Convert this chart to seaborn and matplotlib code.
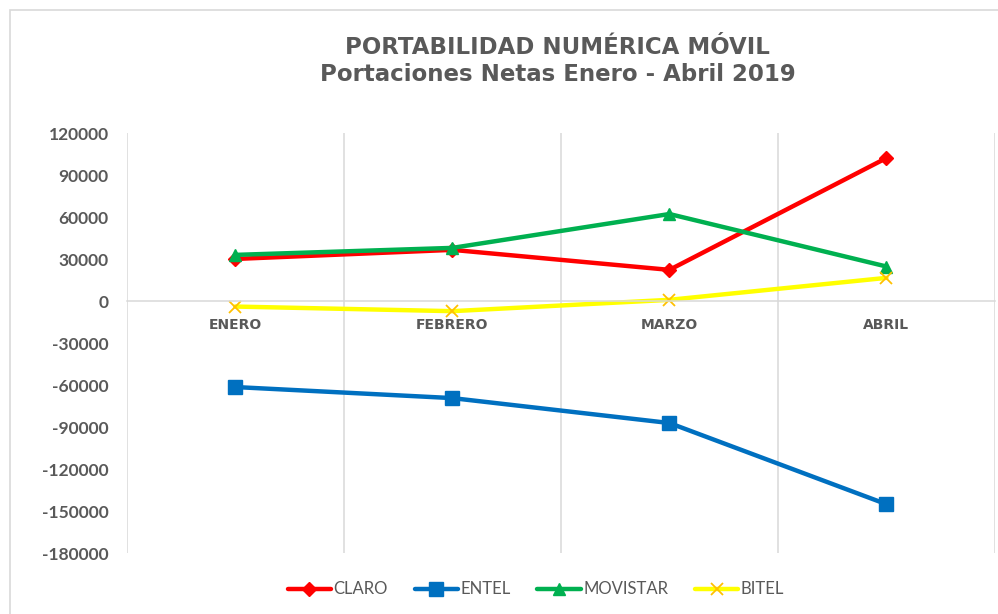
import pandas as pd
import matplotlib.pyplot as plt
import matplotlib.patches as mpatches
import seaborn as sns

#months on the x-axis
meses = ['ENERO', 'FEBRERO', 'MARZO', 'ABRIL']

#net portings per operator
claro = [30200, 36700, 22400, 102300]
entel = [-61300, -69200, -87000, -145000]
movistar = [33100, 38100, 62300, 24800]
bitel = [-3800, -7100, 1000, 16700]

operadores = ['CLARO', 'ENTEL', 'MOVISTAR', 'BITEL']
valores = [claro, entel, movistar, bitel]

#build a long dataframe for seaborn
data = pd.DataFrame()
for n in range(len(operadores)):
    df = pd.DataFrame({'Mes': meses, 'Portaciones': valores[n]})
    df['Operador'] = operadores[n]
    data = pd.concat([data, df], ignore_index=True)

sns.set_style("white")
plt.rcParams['font.family'] = ['Liberation Sans', 'DejaVu Sans']
plt.rcParams['axes.unicode_minus'] = False

gris = '#595959'
fig = plt.figure(figsize=(9.98, 6.14), dpi=100)
ax = fig.add_axes([0.127, 0.099, 0.870, 0.684])

#line styles per operator
colores = {'CLARO': '#FF0000', 'ENTEL': '#0070C0', 'MOVISTAR': '#00B050', 'BITEL': '#FFFF00'}
marcas = {'CLARO': 'D', 'ENTEL': 's', 'MOVISTAR': '^', 'BITEL': 'x'}
tamanos = {'CLARO': 7, 'ENTEL': 10, 'MOVISTAR': 9, 'BITEL': 9}
bordes = {'CLARO': '#FF0000', 'ENTEL': '#0070C0', 'MOVISTAR': '#00B050', 'BITEL': '#FFC000'}

for op in operadores:
    sub = data[data['Operador'] == op]
    sns.lineplot(x='Mes', y='Portaciones', data=sub, ax=ax, color=colores[op],
                 marker=marcas[op], markersize=tamanos[op], linewidth=3.2,
                 markeredgecolor=bordes[op], markerfacecolor=bordes[op],
                 markeredgewidth=1.3 if op == 'BITEL' else 1, label=op)

#axes setup
ax.set_xlim(-0.5, 3.5)
ax.set_ylim(-180000, 120000)
ax.set_yticks(range(-180000, 120001, 30000))
ax.set_xticks([-0.5, 0.5, 1.5, 2.5, 3.5], minor=True)
ax.grid(False)
ax.grid(which='minor', axis='x', color='#D9D9D9', linewidth=1.1)
ax.set_xlabel('')
ax.set_ylabel('')

for s in ['left', 'right', 'top']:
    ax.spines[s].set_visible(False)
ax.spines['bottom'].set_position(('data', 0))
ax.spines['bottom'].set_color('#D9D9D9')
ax.spines['bottom'].set_linewidth(1.1)
ax.set_axisbelow(True)

ax.tick_params(axis='y', length=0, pad=13, labelcolor=gris)
ax.tick_params(axis='x', which='both', length=0, pad=12, labelcolor=gris)
for lab in ax.get_yticklabels():
    lab.set_fontfamily('Lato')
    lab.set_fontweight('bold')
    lab.set_fontsize(12.5)
for lab in ax.get_xticklabels():
    lab.set_fontfamily('DejaVu Sans')
    lab.set_fontweight('bold')
    lab.set_fontsize(10)

#title
fig.text(0.559, 0.922, 'PORTABILIDAD NUMÉRICA MÓVIL', ha='center', va='center',
         fontsize=16.5, fontweight='bold', color=gris, family='DejaVu Sans')
fig.text(0.559, 0.878, 'Portaciones Netas Enero - Abril 2019', ha='center', va='center',
         fontsize=16.5, fontweight='bold', color=gris, family='DejaVu Sans')

#legend at the bottom
leg = ax.legend(loc='center', bbox_to_anchor=(0.537, 0.04), bbox_transform=fig.transFigure,
                ncol=4, frameon=False, handlelength=2.6, columnspacing=1.6, handletextpad=0.15,
                prop={'family': 'Lato', 'size': 12})
for t in leg.get_texts():
    t.set_color(gris)

#light chart border
fig.patches.append(mpatches.Rectangle((0.01, -0.1), 1.2, 1.084, transform=fig.transFigure,
                                      fill=False, edgecolor='#D9D9D9', linewidth=1.2))

plt.savefig('out.png', dpi=100)
